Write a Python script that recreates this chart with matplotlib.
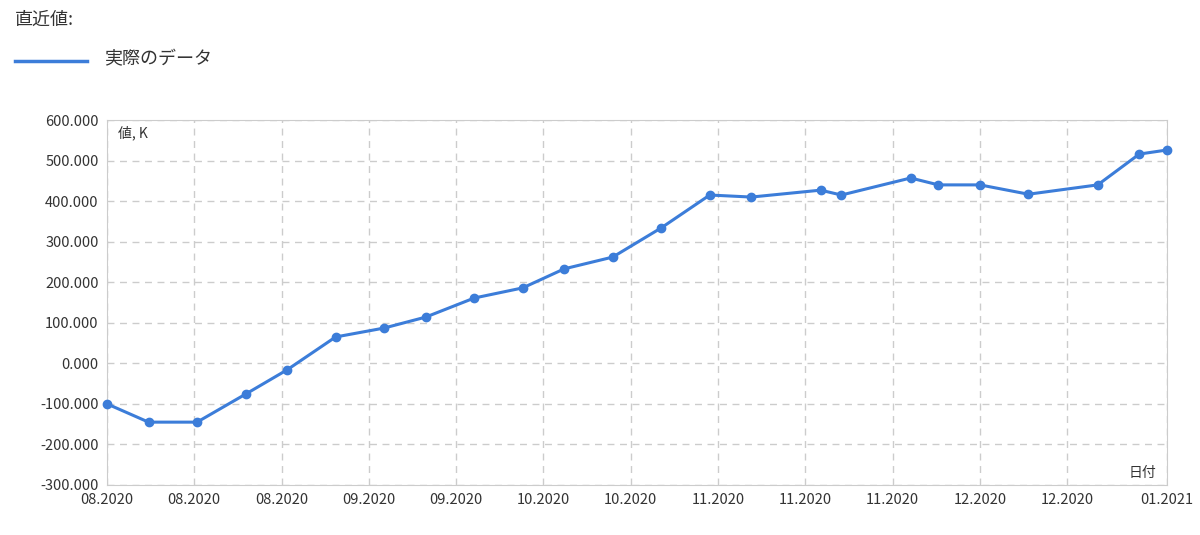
import matplotlib
matplotlib.use('Agg')
import matplotlib.pyplot as plt

plt.rcParams['font.family'] = ['Noto Sans CJK JP', 'DejaVu Sans']

# 日数 (08.2020 起点からの経過日) と値 (K)
days = [0, 6, 13, 20, 26, 33, 40, 46, 53, 60, 66, 73, 80, 87, 93, 103, 106, 116, 120, 126, 133, 143, 149, 153]
values = [-100, -145, -145, -76, -16, 65, 87, 114, 161, 186, 233, 262, 334, 415, 410, 427, 415,
          457, 440, 440, 417, 440, 516, 526]
tick_days = [0, 12.6, 25.2, 37.8, 50.4, 63, 75.6, 88.2, 100.8, 113.4, 126, 138.6, 153]
tick_labels = ['08.2020', '08.2020', '08.2020', '09.2020', '09.2020', '10.2020', '10.2020',
               '11.2020', '11.2020', '11.2020', '12.2020', '12.2020', '01.2021']
y_ticks = list(range(-300, 601, 100))

fig = plt.figure(figsize=(12, 5.35), dpi=100)
ax = fig.add_axes([107 / 1200, 1 - 485 / 535, 1060 / 1200, 365 / 535])

color = '#3c7dd9'
ax.plot(days, values, color=color, lw=2.2, marker='o', ms=6, clip_on=False, zorder=3)

ax.set_xlim(0, 153)
ax.set_ylim(-300, 600)
ax.set_xticks(tick_days)
ax.set_xticklabels(tick_labels, fontsize=10.5, color='#333333')
ax.set_yticks(y_ticks)
ax.set_yticklabels([f'{v:.3f}' for v in y_ticks], fontsize=10.5, color='#333333')
ax.tick_params(length=0, pad=6)
ax.grid(True, color='#cccccc', ls=(0, (5, 4)), lw=1)
for s in ax.spines.values():
    s.set_color('#cccccc')

ax.text(0.01, 0.985, '値, K', transform=ax.transAxes, ha='left', va='top', fontsize=10, color='#333333')
ax.text(0.99, 0.015, '日付', transform=ax.transAxes, ha='right', va='bottom', fontsize=10, color='#333333')

fig.text(15 / 1200, 1 - 20 / 535, '直近値:', fontsize=13, color='#333333', va='center')
fig.add_artist(plt.Line2D([15 / 1200, 87 / 1200], [1 - 61 / 535] * 2, color=color, lw=2.5))
fig.text(104 / 1200, 1 - 59 / 535, '実際のデータ', fontsize=13, color='#333333', va='center')

fig.savefig('out.png', dpi=100)
